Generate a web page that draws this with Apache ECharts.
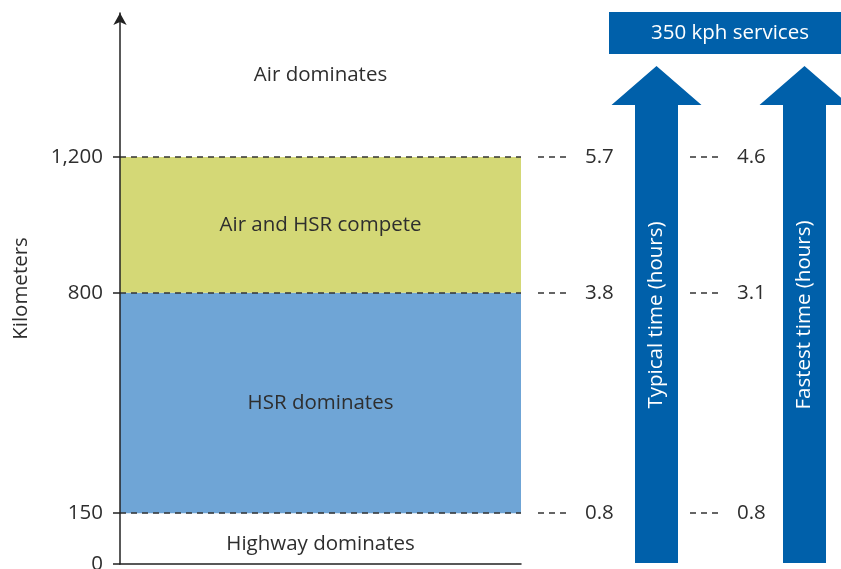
<!DOCTYPE html>
<html>
<head>
<meta charset="utf-8">
<script src="https://cdn.jsdelivr.net/npm/echarts@6/dist/echarts.min.js"></script>
<style>
  html, body { margin: 0; padding: 0; background: #fff; }
  #chart { width: 841px; height: 569px; }
</style>
</head>
<body>
<div id="chart"></div>
<script>
// distance thresholds (km) and the zones between them
var kmBreaks = [0, 150, 800, 1200, 1625];
var zoneNames = ['Highway dominates', 'HSR dominates', 'Air and HSR compete', 'Air dominates'];
var zoneColors = ['rgba(0,0,0,0)', '#6fa5d6', '#d4d876', 'rgba(0,0,0,0)'];
var zoneLabelShift = [6, 0, 0, -10];
var tickKm = [0, 150, 800, 1200];
var lineKm = [150, 800, 1200];
// travel times at those thresholds
var typicalHours = [0.8, 3.8, 5.7];
var fastestHours = [0.8, 3.1, 4.6];

var FONT = '"Open Sans", "Noto Sans", sans-serif';
var FS = 20.5;
var TXT = '#2e2e2e';
var BLUE = '#0060aa';
var Y_MAX = 1625, TOP = 13, H = 551;

var chart = echarts.init(document.getElementById('chart'));

function yAx(i, show){
  return {
    type:'value', gridIndex:i, min:0, max:Y_MAX, show:show,
    z:5,
    name: show ? 'Kilometers' : '', nameLocation:'middle', nameGap:88,
    nameTextStyle:{color:TXT, fontSize:FS, fontFamily:FONT},
    splitLine:{show:false},
    axisLine:{show:show, lineStyle:{color:'#222', width:1.5}, symbol:['none','arrow'], symbolSize:[10,12]},
    axisTick:{show:show, customValues:tickKm, length:7, lineStyle:{color:'#222', width:1.5}},
    axisLabel:{show:show, customValues:tickKm, margin:17, color:TXT, fontSize:FS, fontFamily:FONT,
      formatter:function(v){ return v.toLocaleString('en-US'); }}
  };
}
function xAx(i, show){
  return {
    type:'value', gridIndex:i, min:0, max:1, show:show, z:5,
    splitLine:{show:false}, axisTick:{show:false}, axisLabel:{show:false},
    axisLine:{show:show, lineStyle:{color:'#222', width:1.5}}
  };
}

var areaData = zoneNames.map(function(n, i){
  return [
    {yAxis:kmBreaks[i], name:n, itemStyle:{color:zoneColors[i]},
     label:{offset:[0, zoneLabelShift[i]]}},
    {yAxis:kmBreaks[i+1]}
  ];
});

function timeSeries(idx, hours){
  return {
    type:'line', xAxisIndex:idx, yAxisIndex:idx, data:[], silent:true,
    markLine:{
      silent:true, symbol:['none','none'],
      lineStyle:{color:'#333', type:[6,5], width:1.6},
      label:{position:'end', distance:14, color:TXT, fontSize:FS, fontFamily:FONT},
      data: lineKm.map(function(k, i){
        return {yAxis:k, label:{formatter:String(hours[i].toFixed(1))}};
      })
    }
  };
}

function arrowPts(cx){
  return [[cx-45,105],[cx,66],[cx+45,105],[cx+21.5,105],[cx+21.5,563],[cx-21.5,563],[cx-21.5,105]];
}

var option = {
  animation:false,
  grid:[
    {left:120, top:TOP, width:401, height:H, outerBoundsMode:'none'},
    {left:538, top:TOP, width:33, height:H, outerBoundsMode:'none'},
    {left:690, top:TOP, width:33, height:H, outerBoundsMode:'none'}
  ],
  xAxis:[xAx(0,true), xAx(1,false), xAx(2,false)],
  yAxis:[yAx(0,true), yAx(1,false), yAx(2,false)],
  series:[
    {
      type:'line', xAxisIndex:0, yAxisIndex:0, data:[], silent:true, z:1,
      markArea:{
        silent:true,
        label:{show:true, position:'inside', color:TXT, fontSize:FS, fontFamily:FONT},
        data:areaData
      }
    },
    {
      type:'line', xAxisIndex:0, yAxisIndex:0, data:[], silent:true, z:3,
      markLine:{
        silent:true, symbol:['none','none'], label:{show:false},
        lineStyle:{color:'#333', type:[6,5], width:1.6},
        data: lineKm.map(function(k){ return {yAxis:k}; })
      }
    },
    timeSeries(1, typicalHours),
    timeSeries(2, fastestHours)
  ],
  graphic:[
    {type:'rect', shape:{x:609, y:12, width:245, height:42}, style:{fill:BLUE}},
    {type:'text', x:730, y:33, style:{text:'350 kph services', fill:'#fff', fontSize:FS, fontFamily:FONT,
      textAlign:'center', textVerticalAlign:'middle'}},
    {type:'polygon', shape:{points:arrowPts(656.5)}, style:{fill:BLUE}},
    {type:'polygon', shape:{points:arrowPts(804.5)}, style:{fill:BLUE}},
    {type:'text', x:656, y:315, rotation:Math.PI/2, style:{text:'Typical time (hours)', fill:'#fff',
      fontSize:FS, fontFamily:FONT, textAlign:'center', textVerticalAlign:'middle'}},
    {type:'text', x:804, y:315, rotation:Math.PI/2, style:{text:'Fastest time (hours)', fill:'#fff',
      fontSize:FS, fontFamily:FONT, textAlign:'center', textVerticalAlign:'middle'}}
  ]
};
chart.setOption(option);
</script>
</body>
</html>
